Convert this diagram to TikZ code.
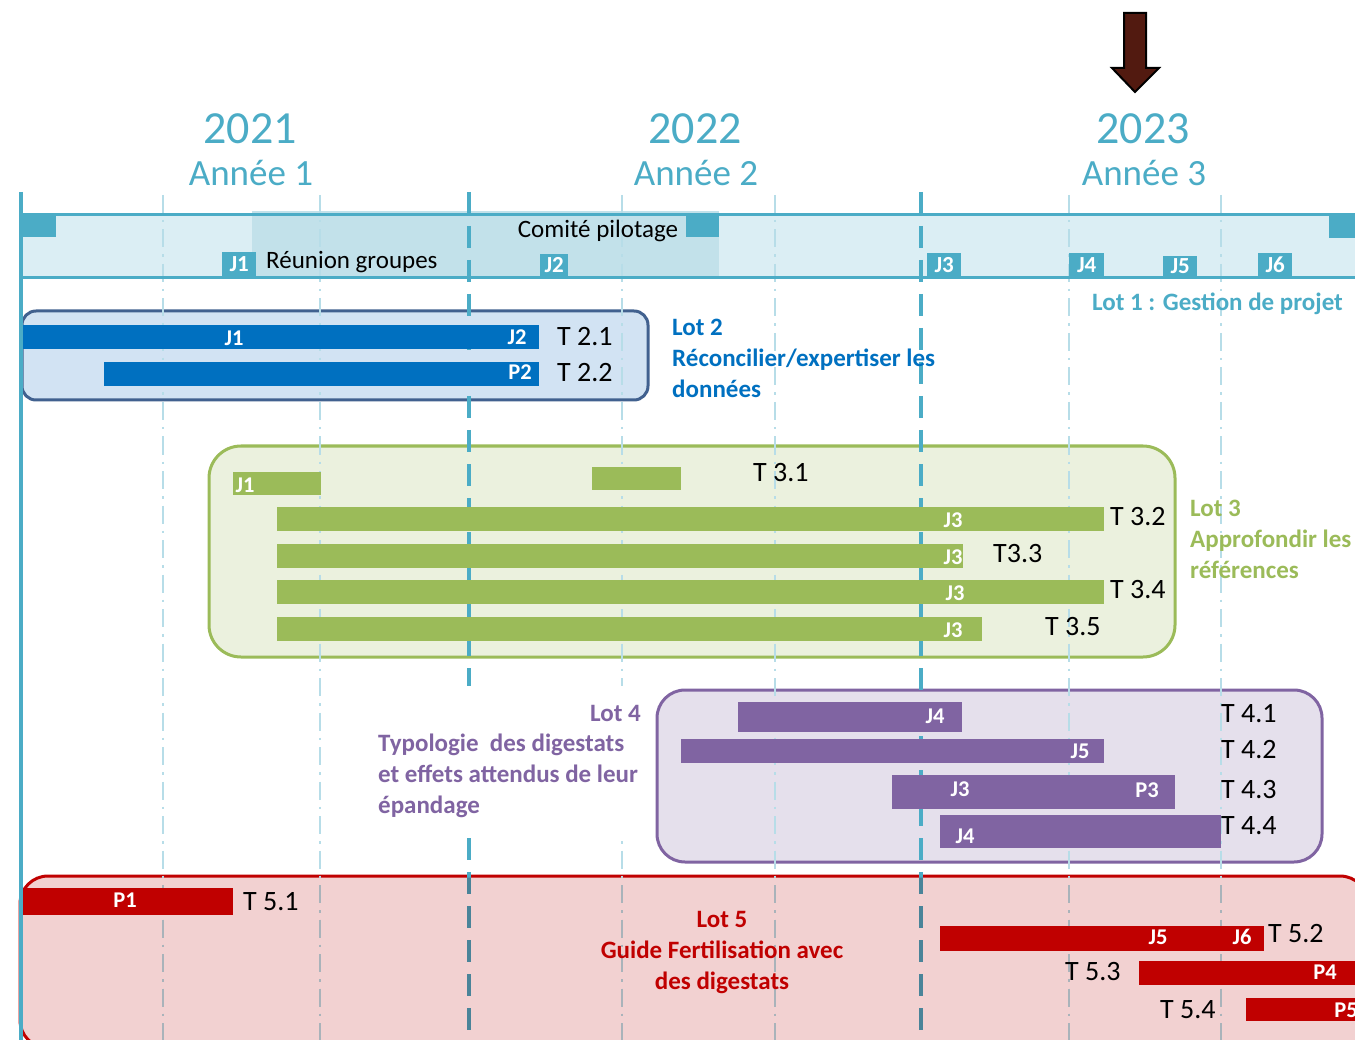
\documentclass[tikz,border=0pt]{standalone}
\usepackage{fontspec}
\setmainfont{Carlito}
\usetikzlibrary{
arrows.meta,
positioning,
calc
}
\definecolor{TealLine}{HTML}{4BACC6}
\definecolor{LightLine}{HTML}{B7DDE8}
\definecolor{BandFill}{HTML}{DBEEF4}
\definecolor{BandDark}{HTML}{C2E1EA}
\definecolor{LotBlue}{HTML}{0070C0}
\definecolor{LotBlueFill}{HTML}{D2E3F3}
\definecolor{LotBlueEdge}{HTML}{41618F}
\definecolor{LotGreen}{HTML}{9BBB59}
\definecolor{LotGreenFill}{HTML}{EBF1DE}
\definecolor{LotPurple}{HTML}{8064A2}
\definecolor{LotPurpleFill}{HTML}{E5E0EC}
\definecolor{LotRed}{HTML}{C00000}
\definecolor{LotRedFill}{HTML}{F2D1D1}
\definecolor{GreyQuarter}{HTML}{A9B3BA}
\definecolor{GreyYear}{HTML}{4A8499}
\definecolor{ArrowBrown}{HTML}{521A10}

\tikzset{
  yearlab/.style={inner sep=0pt, text=TealLine, font=\fontsize{46}{46}\selectfont},
  annlab/.style={inner sep=0pt, text=TealLine, font=\fontsize{37}{37}\selectfont},
  tasklab/.style={anchor=west, inner sep=0pt, font=\fontsize{28}{28}\selectfont},
  barlab/.style={inner sep=0pt, text=white, font=\bfseries\fontsize{22.5}{22.5}\selectfont},
  lotlab/.style={inner sep=0pt, font=\bfseries\fontsize{25}{31}\selectfont},
  jalon/.style={fill=TealLine, text=white, inner sep=0pt, anchor=south west,
    font=\bfseries\fontsize{23}{23}\selectfont},
  quarter/.style={line width=2.5pt, dash pattern=on 18pt off 7pt on 2.5pt off 7pt},
  yearline/.style={line width=4pt, dash pattern=on 22pt off 12pt}
}

\begin{document}
\begin{tikzpicture}[x=1pt,y=-1pt,>=Latex,every node/.style={font=\fontsize{25}{25}\selectfont}]
        \useasboundingbox (0,0) rectangle (1355,1040);

        % years
        \foreach \x/\yr/\n in {250/2021/1,695/2022/2,1143/2023/3} {
            \node[yearlab] (yr\n) at (\x,129) {\yr};
            \node[annlab] (an\n) at (\x+1,173) {Année \n};
        }
        \draw[fill=ArrowBrown, draw=black, line width=2pt]
            (1124,13) -- (1146,13) -- (1146,68) -- (1159,68) -- (1135,92) -- (1112,68) -- (1124,68) -- cycle;

        % lot 1 band
        \fill[BandFill] (21,215) rectangle (1355,278);
        \fill[BandDark] (252,211) rectangle (719,278);

        % lot boxes
        \draw[LotBlueEdge, fill=LotBlueFill, line width=3pt, rounded corners=14pt] (22,311) rectangle (648,400);
        \draw[LotGreen, fill=LotGreenFill, line width=3pt, rounded corners=32pt] (209,446) rectangle (1175,657);
        \draw[LotPurple, fill=LotPurpleFill, line width=3pt, rounded corners=28pt] (657,690) rectangle (1322,862);
        \draw[LotRed, fill=LotRedFill, line width=3pt, rounded corners=28pt] (20,876) rectangle (1368,1048);

        % time grid
        \foreach \x in {163,320,622,775,1069,1221}
            \draw[quarter, LightLine] (\x,195) -- (\x,1040);
        \foreach \x in {469,921}
            \draw[yearline, TealLine] (\x,192) -- (\x,1040);
        \begin{scope}
            \clip[rounded corners=28pt] (21.5,877.5) rectangle (1366,1046);
            \foreach \x in {163,320,622,775,1069,1221}
                \draw[quarter, GreyQuarter] (\x,195) -- (\x,1040);
            \foreach \x in {469,921}
                \draw[yearline, GreyYear] (\x,192) -- (\x,1040);
        \end{scope}

        % lot 1 : gestion de projet
        \draw[TealLine, line width=3pt] (21,215) -- (1355,215);
        \draw[TealLine, line width=3pt] (21,278) -- (1355,278);
        \fill[TealLine] (21,215) rectangle (56,237);
        \fill[TealLine] (686,215) rectangle (719,237);
        \fill[TealLine] (1329,215) rectangle (1355,238);
        \node[inner sep=0pt] (comite) at (598,231) {Comité pilotage};
        \node[inner sep=0pt, anchor=west] (reunion) at (266,262) {Réunion groupes};
        \foreach \x/\y/\w/\lab in {222/252/34/J1,540/254/28/J2,927/253/34/J3,1069/253/35/J4,1163/256/34/J5,1258/253/34/J6}
            \node[jalon, minimum width=\w pt, minimum height=277-\y pt] (m\lab) at (\x,277) {\lab};
        \node[lotlab, text=TealLine, anchor=east] (lotone) at (1343,304) {Lot 1 : Gestion de projet};

        % lot 2
        \fill[LotBlue] (21,325) rectangle (539,349);
        \fill[LotBlue] (104,362) rectangle (539,386);
        \node[barlab] (b21a) at (234,338) {J1};
        \node[barlab] (b21b) at (517,337) {J2};
        \node[barlab] (b22a) at (520,372) {P2};
        \node[tasklab] (t21) at (557,337) {T 2.1};
        \node[tasklab] (t22) at (557,373) {T 2.2};
        \node[lotlab, text=LotBlue, align=left, anchor=west] (lottwo) at (672,358)
            {Lot 2\\Réconcilier/expertiser les\\données};

        % lot 3
        \fill[LotGreen] (233,472) rectangle (321,495);
        \fill[LotGreen] (592,467) rectangle (681,490);
        \node[barlab] (b31a) at (245,485) {J1};
        \node[tasklab] (t31) at (753,473) {T 3.1};
        \foreach \i/\y/\xe/\xl/\xt/\lab in {2/507/1104/953/1110/{T 3.2},3/544/963/953/993/{T3.3},4/580/1104/955/1110/{T 3.4},5/617/982/953/1045/{T 3.5}} {
            \fill[LotGreen] (277,\y) rectangle (\xe,\y+24);
            \node[barlab] (b3\i) at (\xl,\y+13) {J3};
            \node[tasklab] (t3\i) at (\xt,\y+10) {\lab};
        }
        \node[lotlab, text=LotGreen, align=left, anchor=west] (lotthree) at (1190,539)
            {Lot 3\\Approfondir les\\références};

        % lot 4
        \fill[LotPurple] (738,702) rectangle (962,732);
        \fill[LotPurple] (681,739) rectangle (1104,763);
        \fill[LotPurple] (892,775) rectangle (1175,809);
        \fill[LotPurple] (940,815) rectangle (1221,848);
        \node[barlab] (b41) at (935,716) {J4};
        \node[barlab] (b42) at (1080,751) {J5};
        \node[barlab] (b43a) at (960,789) {J3};
        \node[barlab] (b43b) at (1147,790) {P3};
        \node[barlab] (b44) at (965,836) {J4};
        \foreach \i/\y in {1/714,2/750,3/790,4/826}
            \node[tasklab] (t4\i) at (1221,\y) {T 4.\i};
        \fill[white] (372,686) rectangle (652,834);
        \node[lotlab, text=LotPurple, anchor=east] (lotfour) at (641,713) {Lot 4};
        \node[lotlab, text=LotPurple, align=left, anchor=west] (lotfourtxt) at (378,776)
            {Typologie\ \ des digestats\\et effets attendus de leur\\épandage};

        % lot 5
        \fill[LotRed] (20,888) rectangle (233,915);
        \fill[LotRed] (940,926) rectangle (1264,951);
        \fill[LotRed] (1139,961) rectangle (1360,985);
        \fill[LotRed] (1246,998) rectangle (1360,1021);
        \node[barlab] (b51) at (125,900) {P1};
        \node[barlab] (b52a) at (1158,937) {J5};
        \node[barlab] (b52b) at (1242,937) {J6};
        \node[barlab] (b53) at (1325,972) {P4};
        \node[barlab] (b54) at (1346,1010) {P5};
        \node[tasklab] (t51) at (243,902) {T 5.1};
        \node[tasklab] (t52) at (1268,934) {T 5.2};
        \node[tasklab] (t53) at (1065,972) {T 5.3};
        \node[tasklab] (t54) at (1160,1010) {T 5.4};
        \node[lotlab, text=LotRed, align=center] (lotfive) at (722,953)
            {Lot 5\\Guide Fertilisation avec\\des digestats};

        % time axis
        \draw[TealLine, line width=3.5pt] (21,192) -- (21,1040);
    \end{tikzpicture}
\end{document}
